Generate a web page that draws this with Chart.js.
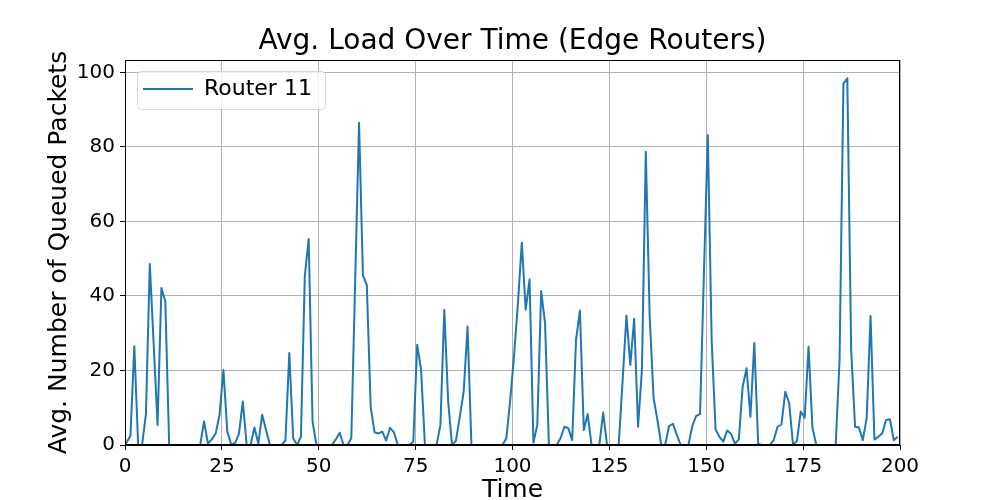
<!DOCTYPE html>
<html>
<head>
<meta charset="utf-8">
<script src="https://cdn.jsdelivr.net/npm/chart.js@4"></script>
<style>
  html, body { margin: 0; padding: 0; background: #fff; }
  #wrap { width: 1000px; height: 500px; }
</style>
</head>
<body>
<div id="wrap"><canvas id="chart" width="1000" height="500"></canvas></div>
<script>
const chartTitle = 'Avg. Load Over Time (Edge Routers)';
const xLabel = 'Time';
const yLabel = 'Avg. Number of Queued Packets';
const seriesName = 'Router 11';
const xTicks = [0, 25, 50, 75, 100, 125, 150, 175, 200];
const yTicks = [0, 20, 40, 60, 80, 100];

// avg queued packets per sample (200 samples)
const load = [
    0, 2.4, 26.5, 0, 0, 8.3, 48.6, 27, 5.4, 42.1, 38.6, 0, 0, 0, 0, 0, 0, 0, 0, 0,
    6.3, 0.4, 1.5, 3.1, 8.1, 20.1, 3.6, 0.2, 0.5, 3.0, 11.7, 0, 0, 4.7, 0.4, 8.1, 4.0, 0, 0, 0,
    0, 1.2, 24.7, 1.8, 0, 2.2, 45.3, 55.3, 6.3, 0, 0, 0, 0, 0, 1.5, 3.3, 0, 0, 1.8, 44,
    86.5, 45.5, 43.0, 10.3, 3.4, 3.1, 3.6, 1.2, 4.6, 3.4, 0, 0, 0, 0, 0.9, 26.9, 20.3, 0, 0, 0,
    0, 5.4, 36.3, 11.6, 0, 1.1, 7.6, 14.3, 31.8, 0, 0, 0, 0, 0, 0, 0, 0, 0, 1.8, 12,
    24, 38, 54.3, 36.3, 44.4, 0.6, 5.4, 41.3, 32.7, 0, 0, 0, 1.8, 4.9, 4.5, 1.3, 28.3, 36.1, 4.0, 8.3,
    0, 0, 0, 8.7, 0, 0, 0, 0, 17, 34.7, 21.5, 33.9, 4.9, 20.2, 78.7, 34.5, 12.7, 6.7, 0, 0,
    5.1, 5.7, 2.7, 0, 0, 0, 5.1, 7.8, 8.3, 46, 83.2, 28, 4.2, 2.2, 0.9, 3.9, 3.0, 0.3, 1.5, 15.7,
    20.6, 7.6, 27.4, 0.3, 0, 0, 0, 1.3, 4.9, 5.5, 14.3, 11.2, 0, 1.1, 9.0, 7.3, 26.4, 4.7, 0, 0,
    0, 0, 0, 0, 22.8, 97, 98.4, 25.5, 4.9, 4.7, 1.3, 7.2, 34.6, 1.5, 2.2, 3.1, 6.7, 6.9, 1.3, 2.2
];
// sample times: first sample at t=0, the rest sit a bit past each whole step
const times = load.map((v, i) => (i === 0 ? 0 : i + 0.4));

const LEGEND_FONT = 22, LEGEND_BOX = 50, LEGEND_PAD = 18;

Chart.defaults.font.family = "'DejaVu Sans', sans-serif";
Chart.defaults.color = '#000';

// matplotlib-style box: all four spines + framed legend in the upper-left corner
const axesFrame = {
    id: 'axesFrame',
    afterLayout(chart) {
        const lg = chart.legend, a = chart.chartArea;
        if (!lg) return;
        lg.left = a.left;
        lg.right = a.right;
        lg.top = a.top;
        lg.bottom = a.top + lg.height;
    },
    afterDatasetsDraw(chart) {
        const { ctx, chartArea: a } = chart;
        const l = Math.round(a.left) + 0.5, r = Math.round(a.right) - 0.5;
        const t = Math.round(a.top) + 0.5, b = Math.round(a.bottom) - 0.5;
        ctx.save();
        ctx.strokeStyle = '#000';
        ctx.lineWidth = 1;
        ctx.strokeRect(l, t, r - l, b - t);
        ctx.restore();
    },
    afterDraw(chart) {
        const lg = chart.legend;
        if (!lg) return;
        const { ctx } = chart;
        ctx.save();
        ctx.font = LEGEND_FONT + "px 'DejaVu Sans'";
        const textW = ctx.measureText(seriesName).width;
        const itemX = lg.left + LEGEND_PAD, itemY = lg.top + LEGEND_PAD;
        const x0 = itemX - 6, y0 = itemY - 7;
        const x1 = itemX + LEGEND_BOX + LEGEND_FONT / 2 + textW + 13;
        const y1 = itemY + LEGEND_FONT + 9;
        ctx.beginPath();
        ctx.roundRect(Math.round(x0) + 0.5, Math.round(y0) + 0.5, Math.round(x1 - x0), Math.round(y1 - y0), 4);
        ctx.fillStyle = 'rgba(255,255,255,0.8)';
        ctx.fill();
        ctx.strokeStyle = 'rgba(204,204,204,0.8)';
        ctx.lineWidth = 1;
        ctx.stroke();
        ctx.restore();
        lg.draw();
    }
};

new Chart(document.getElementById('chart'), {
    type: 'line',
    data: {
        datasets: [{
            label: seriesName,
            data: times.map((t, i) => ({ x: t, y: load[i] })),
            borderColor: '#1f77b4',
            backgroundColor: '#1f77b4',
            borderWidth: 2,
            borderJoinStyle: 'round',
            pointRadius: 0,
            tension: 0,
            fill: false
        }]
    },
    options: {
        responsive: false,
        animation: false,
        layout: { padding: { left: 0, right: 100, top: 0, bottom: 0 } },
        plugins: {
            title: {
                display: true,
                text: chartTitle,
                fullSize: false,
                font: { size: 28, weight: 'normal', lineHeight: 1.2 },
                padding: { top: 25, bottom: 1.4 }
            },
            legend: {
                position: 'chartArea',
                align: 'start',
                labels: {
                    font: { size: LEGEND_FONT },
                    boxWidth: LEGEND_BOX,
                    boxHeight: 2,
                    padding: LEGEND_PAD,
                    generateLabels(chart) {
                        return Chart.defaults.plugins.legend.labels.generateLabels(chart)
                            .map(it => Object.assign(it, { lineWidth: 0, fillStyle: '#1f77b4' }));
                    }
                }
            },
            tooltip: { enabled: false }
        },
        scales: {
            x: {
                type: 'linear',
                min: 0,
                max: 200,
                afterBuildTicks(s) { s.ticks = xTicks.map(v => ({ value: v })); },
                afterFit(s) { s.height = 55; },
                ticks: { font: { size: 20 }, padding: 5, maxRotation: 0 },
                grid: { color: '#b0b0b0', lineWidth: 1, tickLength: 5, tickColor: '#000', tickWidth: 1 },
                border: { color: '#000', width: 1 },
                title: { display: true, text: xLabel, font: { size: 25, lineHeight: 0.8 }, padding: 0 }
            },
            y: {
                min: 0,
                max: Math.max(...load) * 1.05,
                afterBuildTicks(s) { s.ticks = yTicks.map(v => ({ value: v })); },
                afterFit(s) { s.width = 125; },
                ticks: { font: { size: 20 }, padding: 5 },
                grid: { color: '#b0b0b0', lineWidth: 1, tickLength: 5, tickColor: '#000', tickWidth: 1 },
                border: { color: '#000', width: 1 },
                title: { display: true, text: yLabel, font: { size: 25, lineHeight: 1.2 }, padding: { top: 44, bottom: 0 } }
            }
        }
    },
    plugins: [axesFrame]
});
</script>
</body>
</html>
